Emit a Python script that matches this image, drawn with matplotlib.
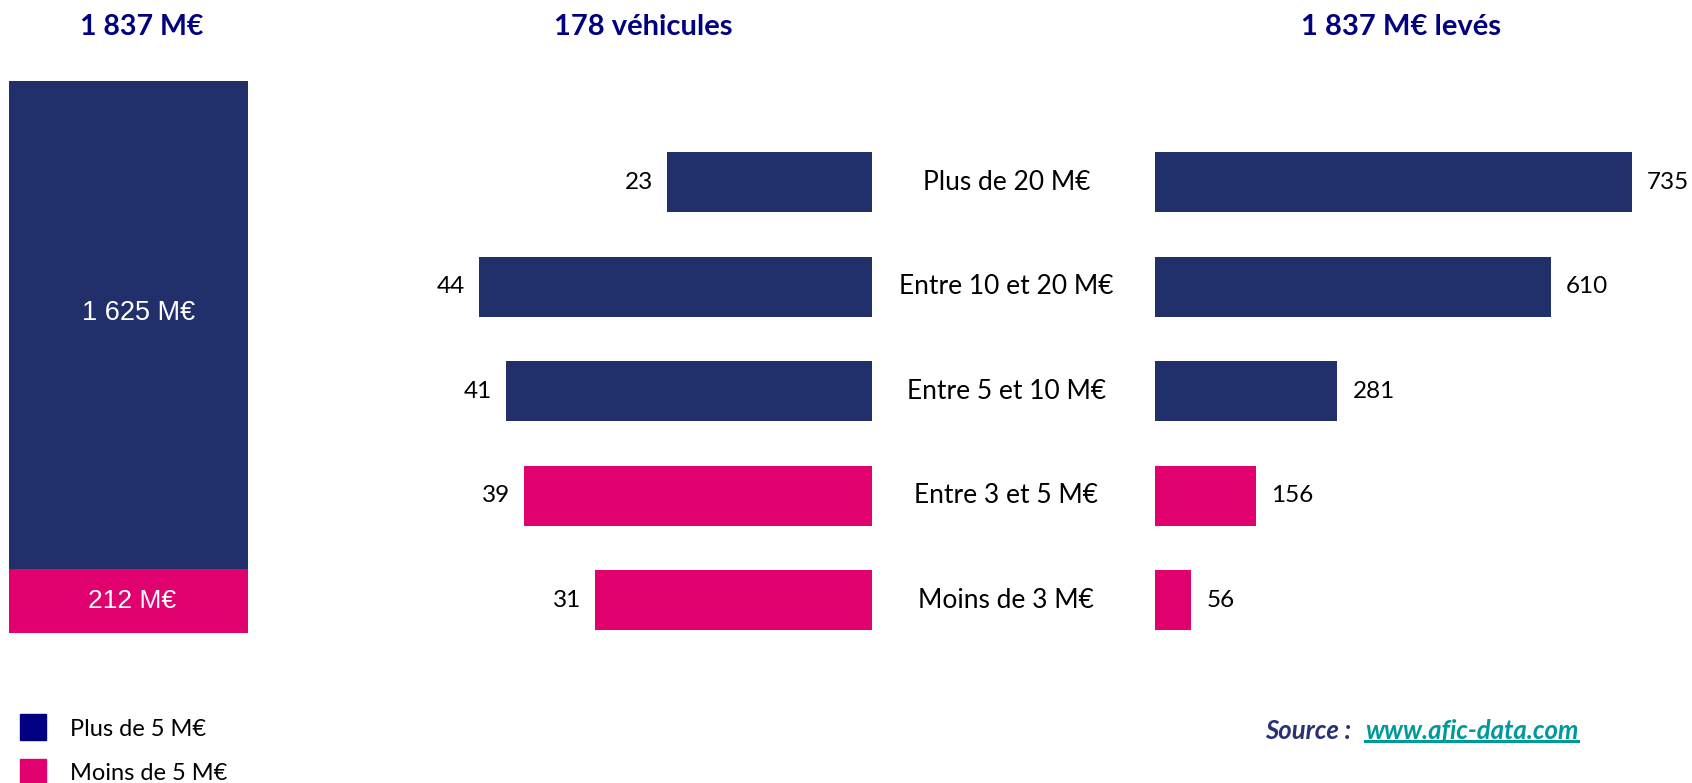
import matplotlib
matplotlib.use('Agg')
import matplotlib.pyplot as plt
from matplotlib.patches import Rectangle
from matplotlib.lines import Line2D

# Data
categories = ['Plus de 20 M€', 'Entre 10 et 20 M€', 'Entre 5 et 10 M€', 'Entre 3 et 5 M€', 'Moins de 3 M€']
vehicules = [23, 44, 41, 39, 31]
montants = [735, 610, 281, 156, 56]
total_plus5 = 1625
total_moins5 = 212
group_plus5 = [True, True, True, False, False]

NAVY = '#212F6A'
PINK = '#E0006E'
TITLE = '#000080'
FONT = 'Lato'

W, H = 1692, 783
fig = plt.figure(figsize=(W / 100, H / 100), dpi=100)


def add_ax(x0, y0, x1, y1):
    # pixel box (top-left origin) -> figure axes
    ax = fig.add_axes([x0 / W, 1 - y1 / H, (x1 - x0) / W, (y1 - y0) / H])
    ax.axis('off')
    return ax


# Left stacked bar
ax_left = add_ax(9, 81, 248, 633)
ax_left.bar(0, total_moins5, width=1, color=PINK)
ax_left.bar(0, total_plus5, bottom=total_moins5, width=1, color=NAVY)
ax_left.set_xlim(-0.5, 0.5)
ax_left.set_ylim(0, total_plus5 + total_moins5)
ax_left.annotate(f'1 {total_plus5 % 1000:03d} M€', (0, total_moins5 + total_plus5 / 2),
                 xytext=(7, 9), textcoords='offset points', color='white',
                 ha='center', va='center', fontsize=19.5, family='Liberation Sans')
ax_left.annotate(f'{total_moins5} M€', (0, total_moins5 / 2),
                 xytext=(2.5, 0), textcoords='offset points', color='white',
                 ha='center', va='center', fontsize=19, family='Liberation Sans')

colors = [NAVY if g else PINK for g in group_plus5]
ypos = list(range(len(categories)))

# Middle bars: number of vehicles (reversed x)
ax_mid = add_ax(425.5, 130.3, 872, 652.2)
ax_mid.barh(ypos, vehicules, height=0.575, color=colors)
ax_mid.set_xlim(50, 0)
ax_mid.set_ylim(4.5, -0.5)
for y, v in zip(ypos, vehicules):
    ax_mid.annotate(str(v), (v, y), xytext=(-10, 0), textcoords='offset points',
                    ha='right', va='center', fontsize=17.5, family=FONT)

# Category labels
ax_cat = add_ax(872, 130.3, 1155, 652.2)
ax_cat.set_xlim(0, 1)
ax_cat.set_ylim(4.5, -0.5)
for y, c in zip(ypos, categories):
    ax_cat.text(0.475, y, c, ha='center', va='center', fontsize=19, family=FONT)

# Right bars: amounts raised
ax_right = add_ax(1155, 130.3, 1674, 652.2)
ax_right.barh(ypos, montants, height=0.575, color=colors)
ax_right.set_xlim(0, 800)
ax_right.set_ylim(4.5, -0.5)
for y, v in zip(ypos, montants):
    ax_right.annotate(str(v), (v, y), xytext=(11, 0), textcoords='offset points',
                      ha='left', va='center', fontsize=17.5, family=FONT)

# Titles
fig.text(142 / W, 1 - 27 / H, '1 837 M€', ha='center', va='center', fontsize=20.5,
         fontweight='bold', color=TITLE, family=FONT)
fig.text(643 / W, 1 - 27 / H, '178 véhicules', ha='center', va='center', fontsize=21,
         fontweight='bold', color=TITLE, family=FONT)
fig.text(1401 / W, 1 - 27 / H, '1 837 M€ levés', ha='center', va='center', fontsize=21,
         fontweight='bold', color=TITLE, family=FONT)

# Legend
fig.patches.append(Rectangle((20 / W, 1 - 740 / H), 26 / W, 26 / H, color='#000080',
                             transform=fig.transFigure))
fig.patches.append(Rectangle((20 / W, 1 - 785 / H), 26 / W, 26 / H, color=PINK,
                             transform=fig.transFigure))
fig.text(70 / W, 1 - 729 / H, 'Plus de 5 M€', ha='left', va='center', fontsize=17, family=FONT)
fig.text(70 / W, 1 - 774 / H, 'Moins de 5 M€', ha='left', va='center', fontsize=17, family=FONT)

# Source
fig.text(1265 / W, 1 - 731 / H, 'Source :', ha='left', va='center', fontsize=18.5,
         fontweight='bold', style='italic', color='#283270', family=FONT)
url = fig.text(1365 / W, 1 - 731 / H, 'www.afic-data.com', ha='left', va='center', fontsize=18.5,
               fontweight='bold', style='italic', color='#009999', family=FONT)
fig.canvas.draw()
bb = url.get_window_extent().transformed(fig.transFigure.inverted())
fig.lines.append(Line2D([bb.x0, bb.x1], [bb.y0 + 0.002, bb.y0 + 0.002], color='#009999',
                        linewidth=2.2, transform=fig.transFigure))

fig.savefig('out.png', dpi=100)
